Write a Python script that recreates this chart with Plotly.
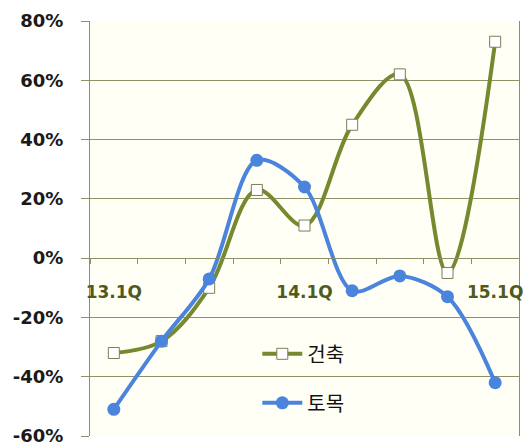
import plotly.graph_objects as go

categories = ["13.1Q", "13.2Q", "13.3Q", "13.4Q", "14.1Q", "14.2Q", "14.3Q", "14.4Q", "15.1Q"]
x_tick_labels = ["13.1Q", "", "", "", "14.1Q", "", "", "", "15.1Q"]
y_tick_values = [-60, -40, -20, 0, 20, 40, 60, 80]
y_tick_labels = ["-60%", "-40%", "-20%", "0%", "20%", "40%", "60%", "80%"]
building = [-32, -28, -10, 23, 11, 45, 62, -5, 73]   # 건축
civil = [-51, -28, -7, 33, 24, -11, -6, -13, -42]    # 토목

OLIVE = "#77892f"
BLUE = "#4a84dc"
GRID = "#8f9068"

fig = go.Figure()
fig.add_trace(go.Scatter(
    x=categories, y=building, name="건축", legendgroup="a",
    mode="lines+markers",
    line=dict(color=OLIVE, width=4, shape="spline", smoothing=1),
    marker=dict(symbol="square", size=11, color="white", line=dict(color="#7d7d5a", width=1)),
))
fig.add_trace(go.Scatter(
    x=categories, y=civil, name="토목", legendgroup="b",
    mode="lines+markers",
    line=dict(color=BLUE, width=4, shape="spline", smoothing=0.9),
    marker=dict(symbol="circle", size=13, color=BLUE),
))

fig.update_layout(
    width=528, height=443,
    margin=dict(l=90, r=9, t=21, b=7),
    paper_bgcolor="white",
    plot_bgcolor="#fffff6",
    showlegend=True,
    legend=dict(
        x=0.39, y=0.245, xanchor="left", yanchor="top",
        bgcolor="rgba(0,0,0,0)",
        font=dict(family="Noto Sans CJK KR", size=20, color="#111111"),
        tracegroupgap=20,
        itemwidth=40,
    ),
    xaxis=dict(
        type="category",
        categoryorder="array", categoryarray=categories,
        range=[-0.5, len(categories) - 0.5],
        tickvals=categories, ticktext=x_tick_labels,
        tickson="boundaries",
        tickangle=0,
        automargin=False,
        ticklabeloverflow="allow",
        ticks="outside", ticklen=5, tickcolor=GRID,
        showgrid=False, zeroline=False,
        showline=True, linecolor=GRID, linewidth=1,
        anchor="free", position=60 / 140,
        tickfont=dict(family="DejaVu Sans", size=17, color="#4f5a1c", weight="bold"),
        ticklabelstandoff=18,
    ),
    yaxis=dict(
        range=[-60, 80],
        tickmode="array", tickvals=y_tick_values, ticktext=y_tick_labels,
        automargin=False,
        ticklabeloverflow="allow",
        showgrid=True, gridcolor=GRID, gridwidth=1,
        zeroline=False,
        showline=True, linecolor="#8a8a8a", linewidth=1, mirror=True,
        ticks="outside", ticklen=8, tickcolor=GRID,
        tickfont=dict(family="DejaVu Sans", size=18, color="#1a1a1a", weight="bold"),
        ticklabelstandoff=14,
    ),
)

fig.write_html(
    "out.html",
    config={"displayModeBar": False},
    post_script="document.body.style.margin='0';document.body.style.overflow='hidden';",
)
